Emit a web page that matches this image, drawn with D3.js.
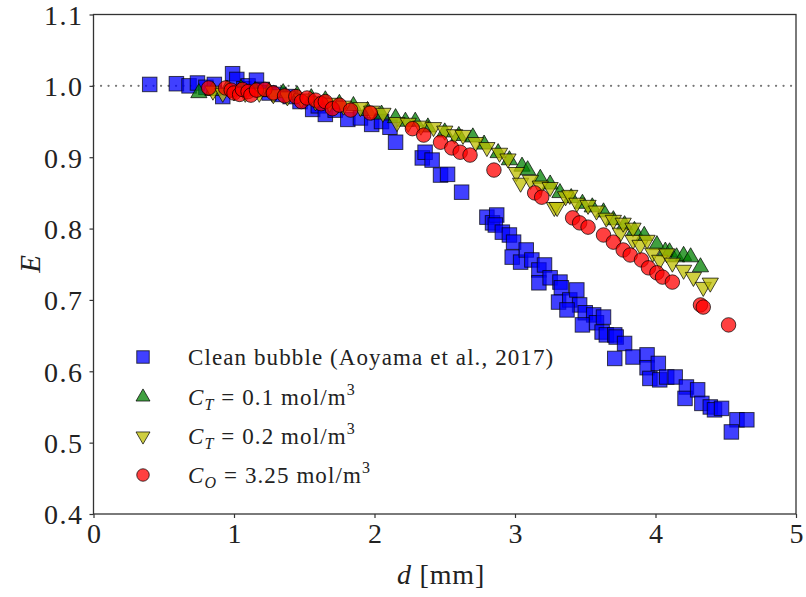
<!DOCTYPE html>
<html><head><meta charset="utf-8">
<script src="https://cdn.jsdelivr.net/npm/d3@7"></script>
<style>body{margin:0;background:#fff}svg{display:block}</style>
</head><body>
<svg id="chart" width="806" height="597"></svg>
<script>
const xTicks = [0, 1, 2, 3, 4, 5];
const yTicks = [0.4, 0.5, 0.6, 0.7, 0.8, 0.9, 1.0, 1.1];

const cleanD = [0.40,0.59,0.68,0.74,0.80,0.86,0.92,0.99,1.02,1.07,1.10,1.16,1.20,1.25,1.32,1.40,1.47,1.56,1.60,1.65,1.72,1.81,1.90,1.98,2.05,2.11,2.15,2.34,2.36,2.41,2.47,2.52,2.62,2.80,2.84,2.87,2.86,2.91,2.96,2.99,2.98,3.04,3.08,3.12,3.17,3.21,3.17,3.25,3.32,3.33,3.31,3.39,3.44,3.46,3.37,3.50,3.56,3.48,3.58,3.62,3.63,3.65,3.71,3.72,3.78,3.71,3.84,3.94,3.94,4.02,3.96,4.03,4.08,4.14,4.22,4.21,4.30,4.33,4.39,4.42,4.47,4.58,4.65,4.54];
const cleanE = [1.002,1.003,1.000,1.004,0.998,1.002,0.985,1.017,1.009,0.996,1.000,1.008,0.995,0.990,0.988,0.985,0.978,0.967,0.972,0.960,0.966,0.953,0.955,0.946,0.950,0.942,0.921,0.899,0.907,0.896,0.875,0.876,0.851,0.816,0.808,0.819,0.805,0.795,0.791,0.781,0.760,0.753,0.770,0.756,0.742,0.749,0.724,0.731,0.725,0.717,0.697,0.700,0.714,0.693,0.686,0.682,0.679,0.665,0.668,0.655,0.676,0.651,0.651,0.648,0.639,0.618,0.620,0.623,0.605,0.611,0.590,0.588,0.592,0.592,0.578,0.562,0.574,0.555,0.550,0.546,0.548,0.532,0.532,0.515];

const ct01D = [0.75,0.85,0.95,1.05,1.15,1.25,1.35,1.45,1.55,1.65,1.75,1.85,1.95,2.05,2.15,2.22,2.29,2.38,2.50,2.60,2.70,2.78,2.88,2.96,3.05,3.09,3.18,3.25,3.32,3.40,3.48,3.55,3.63,3.70,3.78,3.85,3.92,4.01,4.07,4.10,4.15,4.20,4.25,4.32];
const ct01E = [0.990,0.993,0.995,0.996,0.993,0.992,0.990,0.987,0.983,0.980,0.975,0.972,0.965,0.960,0.955,0.950,0.950,0.942,0.935,0.930,0.928,0.918,0.906,0.896,0.887,0.882,0.870,0.862,0.850,0.843,0.835,0.830,0.823,0.812,0.805,0.797,0.790,0.777,0.768,0.767,0.760,0.762,0.760,0.746];

const ct02D = [0.85,0.92,1.00,1.08,1.18,1.28,1.38,1.48,1.58,1.68,1.78,1.90,1.98,2.06,2.16,2.24,2.33,2.42,2.50,2.57,2.63,2.72,2.80,2.89,2.95,3.01,3.04,3.11,3.18,3.25,3.28,3.30,3.36,3.39,3.44,3.52,3.58,3.65,3.70,3.75,3.77,3.84,3.84,3.89,3.94,3.98,4.03,4.08,4.12,4.20,4.27,4.34,4.39];
const ct02E = [0.993,0.990,0.992,0.990,0.990,0.988,0.985,0.982,0.978,0.976,0.972,0.970,0.965,0.962,0.949,0.948,0.944,0.942,0.937,0.932,0.931,0.921,0.914,0.906,0.898,0.879,0.864,0.868,0.860,0.858,0.830,0.830,0.845,0.847,0.836,0.833,0.825,0.815,0.812,0.794,0.808,0.801,0.784,0.777,0.784,0.766,0.756,0.765,0.752,0.742,0.732,0.718,0.724];

const coD = [0.82,0.94,0.98,1.00,1.04,1.06,1.10,1.12,1.16,1.22,1.28,1.36,1.44,1.48,1.52,1.58,1.62,1.65,1.70,1.75,1.83,1.97,2.27,2.35,2.47,2.55,2.61,2.68,2.85,3.14,3.19,3.41,3.46,3.52,3.63,3.70,3.77,3.82,3.90,3.95,4.01,4.05,4.12,4.32,4.34,4.52];
const coE = [0.997,0.997,0.994,0.990,0.988,0.995,0.992,0.987,0.994,0.995,0.990,0.986,0.985,0.978,0.983,0.980,0.975,0.978,0.968,0.973,0.966,0.962,0.940,0.931,0.921,0.913,0.907,0.903,0.882,0.850,0.844,0.815,0.808,0.802,0.791,0.781,0.770,0.763,0.756,0.745,0.738,0.732,0.725,0.693,0.690,0.665];

const seriesNames = ["Clean bubble (Aoyama et al., 2017)", "C_T = 0.1 mol/m3", "C_T = 0.2 mol/m3", "C_O = 3.25 mol/m3"];

const svg = d3.select("#chart");
const L = 93.5, R = 796, T = 14.5, B = 514;
const x = d3.scaleLinear().domain([0, 5]).range([L, R]);
const y = d3.scaleLinear().domain([0.4, 1.1]).range([B, T]);
const font = "'Liberation Serif', 'DejaVu Serif', serif";

// reference line
svg.append("line").attr("x1", x(0)).attr("x2", x(5)).attr("y1", y(1.0)).attr("y2", y(1.0))
  .attr("stroke", "#777").attr("stroke-width", 2.2).attr("stroke-dasharray", "0.1,7.4").attr("stroke-linecap","round");

function triPath(s, down) {
  const h = s * Math.sqrt(3) / 2;
  const pts = down ? [[-s/2, -h/3], [s/2, -h/3], [0, 2*h/3]] : [[-s/2, h/3], [s/2, h/3], [0, -2*h/3]];
  return "M" + pts.map(p => p.join(",")).join("L") + "Z";
}
function marker(g, kind, size) {
  if (kind === "sq") return g.append("rect").attr("x", -size/2).attr("y", -size/2).attr("width", size).attr("height", size);
  if (kind === "circ") return g.append("circle").attr("r", size/2);
  return g.append("path").attr("d", triPath(size * 1.12, kind === "down"));
}
const styles = [
  {kind: "sq", fill: "#0000ff", size: 14.5, d: cleanD, e: cleanE},
  {kind: "up", fill: "#008000", size: 14.5, d: ct01D, e: ct01E},
  {kind: "down", fill: "#bfbf00", size: 14.5, d: ct02D, e: ct02E},
  {kind: "circ", fill: "#ff0000", size: 14.5, d: coD, e: coE}
];
const plot = svg.append("g");
styles.forEach(s => {
  const g = plot.append("g");
  g.selectAll("g").data(s.d.map((d, i) => [d, s.e[i]])).join("g")
    .attr("transform", p => `translate(${x(p[0])},${y(p[1])})`)
    .each(function() {
      marker(d3.select(this), s.kind, s.size)
        .attr("fill", s.fill).attr("fill-opacity", 0.75)
        .attr("stroke", "#000").attr("stroke-opacity", 0.7).attr("stroke-width", 1);
    });
});

// frame
svg.append("rect").attr("x", L).attr("y", T).attr("width", R - L).attr("height", B - T)
  .attr("fill", "none").attr("stroke", "#333").attr("stroke-width", 1.3);

// axes
const xAxis = svg.append("g").attr("transform", `translate(0,${B})`)
  .call(d3.axisBottom(x).tickValues(xTicks).tickFormat(d3.format("d")).tickSize(4).tickPadding(5));
const yAxis = svg.append("g").attr("transform", `translate(${L},0)`)
  .call(d3.axisLeft(y).tickValues(yTicks).tickFormat(d3.format(".1f")).tickSize(4).tickPadding(6));
[xAxis, yAxis].forEach(a => {
  a.select(".domain").remove();
  a.selectAll(".tick line").attr("stroke", "#333").attr("stroke-width", 1.2);
  a.selectAll(".tick text").attr("font-family", font).attr("font-size", 28).attr("fill", "#222");
});
yAxis.selectAll(".tick text").attr("dy", "0.35em").attr("letter-spacing", 1.5);

// axis labels
const xl = svg.append("text").attr("x", 441).attr("y", 584).attr("text-anchor", "middle")
  .attr("font-family", font).attr("font-size", 28).attr("letter-spacing", 0.8).attr("fill", "#222");
xl.append("tspan").attr("font-style", "italic").text("d");
xl.append("tspan").text(" [mm]");
svg.append("text").attr("transform", "translate(40,264) rotate(-90)").attr("text-anchor", "middle")
  .attr("font-family", font).attr("font-size", 29).attr("font-style", "italic").attr("fill", "#222").text("E");

// legend
const legY = [357, 397, 436, 475];
const leg = svg.append("g");
styles.forEach((s, i) => {
  const g = leg.append("g").attr("transform", `translate(143,${legY[i]})`);
  marker(g, s.kind, 12.5).attr("fill", s.fill).attr("fill-opacity", 0.75)
    .attr("stroke", "#000").attr("stroke-opacity", 0.7).attr("stroke-width", 1);
  const t = leg.append("text").attr("x", 188).attr("y", legY[i] + 8)
    .attr("font-family", font).attr("font-size", 23).attr("letter-spacing", 1.1).attr("fill", "#222");
  const name = seriesNames[i];
  if (i === 0) { t.text(name); return; }
  const m = name.match(/^C_(\w) = ([\d.]+) mol\/m3$/);
  t.append("tspan").attr("font-style", "italic").text("C");
  t.append("tspan").attr("font-style", "italic").attr("font-size", 16).attr("dy", 5).text(m[1]);
  t.append("tspan").attr("dy", -5).text(" = " + m[2] + " mol/m");
  t.append("tspan").attr("font-size", 16).attr("dy", -10).text("3");
});
</script>
</body></html>
